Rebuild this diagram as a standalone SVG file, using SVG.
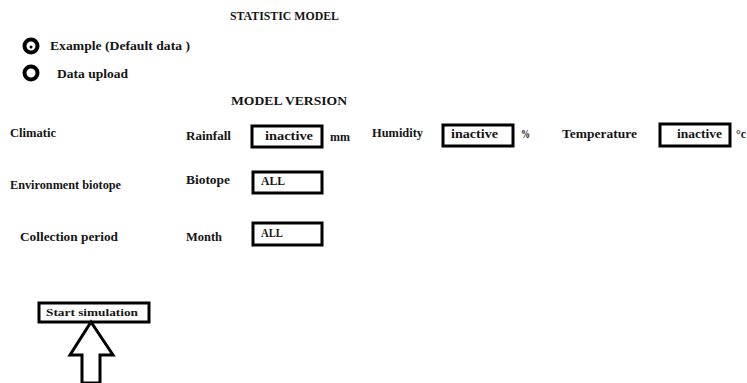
<svg xmlns="http://www.w3.org/2000/svg" width="747" height="383" viewBox="0 0 747 383" font-family="'Liberation Serif', 'Times New Roman', serif">
<style>
text { font-family: "Liberation Serif", "Times New Roman", serif; font-weight: bold; fill: #151515; font-size: 12px; }
.box { fill: #fff; stroke: #000; stroke-width: 3; }
.radio { fill: #fff; stroke: #000; stroke-width: 4; }
</style>
<rect width="747" height="383" fill="#fff"/>
<g id="title"><text x="230" y="20" textLength="109" lengthAdjust="spacingAndGlyphs">STATISTIC MODEL</text></g>
<g id="opt-example">
<circle class="radio" cx="31" cy="46" r="6.5"/>
<circle cx="31" cy="47" r="1.5" fill="#000"/>
<text x="50" y="50" textLength="140" lengthAdjust="spacingAndGlyphs">Example (Default data )</text>
</g>
<g id="opt-upload">
<circle class="radio" cx="31" cy="73" r="6.5"/>
<text x="57" y="78" textLength="71" lengthAdjust="spacingAndGlyphs">Data upload</text>
</g>
<g id="version"><text x="231" y="105" textLength="116" lengthAdjust="spacingAndGlyphs">MODEL VERSION</text></g>
<g id="climatic"><text x="10" y="137" textLength="46" lengthAdjust="spacingAndGlyphs">Climatic</text></g>
<g id="rainfall">
<text x="186" y="140" textLength="45" lengthAdjust="spacingAndGlyphs">Rainfall</text>
<rect class="box" x="252" y="126" width="70" height="21"/>
<text x="265" y="140" textLength="48" lengthAdjust="spacingAndGlyphs">inactive</text>
<text x="330" y="141" textLength="20" lengthAdjust="spacingAndGlyphs">mm</text>
</g>
<g id="humidity">
<text x="372" y="137" textLength="51" lengthAdjust="spacingAndGlyphs">Humidity</text>
<rect class="box" x="443" y="125" width="70" height="21"/>
<text x="451" y="138" textLength="47" lengthAdjust="spacingAndGlyphs">inactive</text>
<text x="521" y="138" textLength="9" lengthAdjust="spacingAndGlyphs">%</text>
</g>
<g id="temperature">
<text x="562" y="138" textLength="75" lengthAdjust="spacingAndGlyphs">Temperature</text>
<rect class="box" x="660" y="124" width="70" height="22"/>
<text x="677" y="138" textLength="45" lengthAdjust="spacingAndGlyphs">inactive</text>
<text x="736" y="138" textLength="10" lengthAdjust="spacingAndGlyphs">°c</text>
</g>
<g id="environment"><text x="10" y="189" textLength="111" lengthAdjust="spacingAndGlyphs">Environment biotope</text></g>
<g id="biotope">
<text x="186" y="184" textLength="44" lengthAdjust="spacingAndGlyphs">Biotope</text>
<rect class="box" x="253" y="172" width="69" height="21"/>
<text x="261" y="185" textLength="24" lengthAdjust="spacingAndGlyphs">ALL</text>
</g>
<g id="collection"><text x="20" y="241" textLength="98" lengthAdjust="spacingAndGlyphs">Collection period</text></g>
<g id="month">
<text x="186" y="241" textLength="36" lengthAdjust="spacingAndGlyphs">Month</text>
<rect class="box" x="253" y="223" width="69" height="22"/>
<text x="261" y="237" textLength="22" lengthAdjust="spacingAndGlyphs">ALL</text>
</g>
<g id="start">
<rect class="box" x="39" y="303" width="110" height="19"/>
<text x="46" y="316" style="font-size:11px" textLength="92" lengthAdjust="spacingAndGlyphs">Start simulation</text>
</g>
<g id="connectors">
<path d="M91 322 L113 355 L100 355 L100 383 L82 383 L82 355 L70 355 Z" fill="#fff" stroke="#000" stroke-width="3" stroke-linejoin="miter"/>
</g>
</svg>
